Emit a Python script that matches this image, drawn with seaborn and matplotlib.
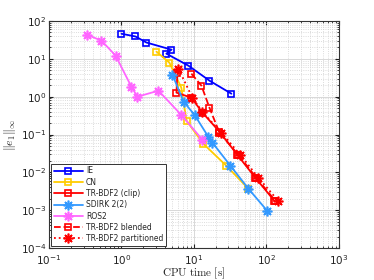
import numpy as np
import pandas as pd
import matplotlib
matplotlib.use('Agg')
import matplotlib.pyplot as plt
import seaborn as sns
from matplotlib.ticker import LogLocator, NullFormatter

# data (CPU time [s], error)
ie_t = [1.0, 1.56, 2.21, 4.9, 4.17, 8.4, 16.4, 32.9]
ie_e = [46, 39, 27, 17.5, 13.7, 6.6, 2.65, 1.2]

cn_t = [3.04, 4.59, 6.7, 7.9, 13.5, 28, 56.5]
cn_e = [15.5, 7.9, 1.73, 0.232, 0.057, 0.015, 0.0037]

clip_t = [5.92, 5.74, 9.24, 13.1, 22.5, 39.8, 70.5, 129]
clip_e = [4.3, 1.28, 0.94, 0.38, 0.119, 0.029, 0.0072, 0.00177]

sdirk_t = [5.05, 7.2, 10.2, 15.8, 18, 31.9, 56.5, 103]
sdirk_e = [3.82, 0.74, 0.33, 0.0875, 0.061, 0.015, 0.0037, 0.00096]

ros_t = [0.33, 0.53, 0.83, 1.37, 1.66, 3.24, 6.7, 13.1]
ros_e = [43.7, 30.3, 12.2, 1.84, 1.0, 1.44, 0.33, 0.073]

blend_t = [9.24, 12.7, 16.4, 22.5, 41.1, 72.8, 133]
blend_e = [4.06, 1.95, 0.51, 0.112, 0.029, 0.0072, 0.00177]

part_t = [6.11, 9.53, 13.1, 23.9, 43.8, 77.6, 146]
part_e = [5.5, 0.94, 0.40, 0.112, 0.029, 0.0072, 0.00177]

labels = ['IE', 'CN', 'TR-BDF2 (clip)', 'SDIRK 2(2)', 'ROS2',
          'TR-BDF2 blended', 'TR-BDF2 partitioned']

x_ticks = [0.1, 1, 10, 100, 1000]
y_ticks = [1e-4, 1e-3, 1e-2, 1e-1, 1, 10, 100]

sns.set_style('ticks')
plt.rcParams['font.family'] = ['DejaVu Sans']
plt.rcParams['mathtext.fontset'] = 'cm'

fig = plt.figure(figsize=(3.74, 2.8), dpi=100)
ax = fig.add_axes([0.131, 0.114, 0.775, 0.811])

star = (8, 2, 0)
series = [
    (ie_t, ie_e, '#0000ff', '-', 's', 4.5),
    (cn_t, cn_e, '#ffcc00', '-', 's', 4.5),
    (clip_t, clip_e, '#ff0000', '-', 's', 4.5),
    (sdirk_t, sdirk_e, '#3399ff', '-', star, 7),
    (ros_t, ros_e, '#ff66ff', '-', star, 7),
    (blend_t, blend_e, '#ff0000', '--', 's', 4.5),
    (part_t, part_e, '#ff0000', ':', star, 7),
]

for (t, e, c, ls, m, ms), lab in zip(series, labels):
    df = pd.DataFrame({'t': t, 'e': e})
    sns.lineplot(data=df, x='t', y='e', sort=False, ax=ax, color=c,
                 linestyle=ls, marker=m, markersize=ms, linewidth=1.3,
                 markerfacecolor='none', markeredgecolor=c,
                 markeredgewidth=1.2, label=lab)

ax.set_xscale('log')
ax.set_yscale('log')
ax.set_xticks(x_ticks)
ax.set_yticks(y_ticks)
ax.set_xlim(0.1, 1000)
ax.set_ylim(1e-4, 1e2)
ax.xaxis.set_minor_locator(LogLocator(base=10, subs=np.arange(2, 10), numticks=20))
ax.yaxis.set_minor_locator(LogLocator(base=10, subs=np.arange(2, 10), numticks=20))
ax.xaxis.set_minor_formatter(NullFormatter())
ax.yaxis.set_minor_formatter(NullFormatter())
ax.grid(True, which='major', color='#d8d8d8', linewidth=0.7)
ax.grid(True, which='minor', color='#d0d0d0', linestyle=':', linewidth=0.6)
ax.set_axisbelow(True)
ax.tick_params(which='both', direction='in', top=True, right=True,
               labelsize=7.5, colors='#222222')
ax.tick_params(axis='x', pad=4)
ax.tick_params(axis='y', pad=2)
ax.tick_params(which='major', length=3)
ax.tick_params(which='minor', length=1.5)
for s in ax.spines.values():
    s.set_linewidth(0.8)
    s.set_color('#333333')

ax.set_xlabel(r'$\mathrm{CPU\ time\ [s]}$', fontsize=8, labelpad=-1)
ax.set_ylabel(r'$\|e_1\|_\infty$', fontsize=8.5, labelpad=2)

leg = ax.legend(loc='lower left', fontsize=5.5, frameon=True, fancybox=False,
                edgecolor='#333333', borderpad=0.35, labelspacing=0.3,
                handlelength=3.8, handletextpad=0.4, borderaxespad=0.3,
                framealpha=1)
leg.get_frame().set_linewidth(0.7)

fig.savefig('out.png', dpi=100)
